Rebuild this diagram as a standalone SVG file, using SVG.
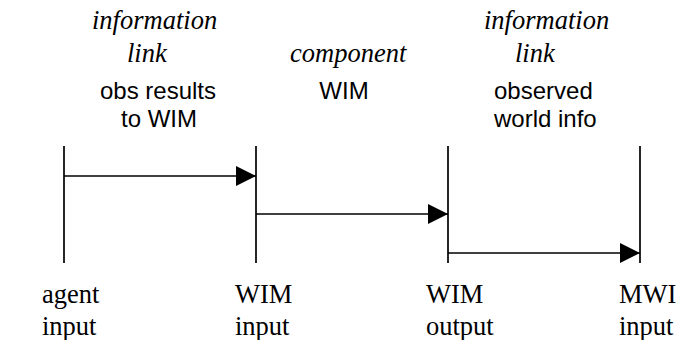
<svg xmlns="http://www.w3.org/2000/svg" width="677" height="340" viewBox="0 0 677 340">
<style>
.it{font-family:"Liberation Serif","Times New Roman",serif;font-style:italic;font-size:26.5px;fill:#000}
.sf{font-family:"Liberation Serif","Times New Roman",serif;font-size:26.5px;fill:#000}
.ss{font-family:"Liberation Sans",Arial,sans-serif;font-size:24px;fill:#000}
.ln{stroke:#000;stroke-width:1.7;fill:none}
</style>
<defs>
<marker id="ah" markerWidth="20" markerHeight="20" refX="20" refY="10" orient="auto" markerUnits="userSpaceOnUse">
<path d="M0,0 L20,10 L0,20 Z" fill="#000"/>
</marker>
</defs>
<rect width="677" height="340" fill="#fff"/>
<g id="link1">
<text class="it" x="92" y="29">information</text>
<text class="it" x="127" y="62">link</text>
<text class="ss" x="158" y="99" text-anchor="middle">obs results</text>
<text class="ss" x="159" y="127" text-anchor="middle">to WIM</text>
</g>
<g id="component">
<text class="it" x="290" y="62">component</text>
<text class="ss" x="344" y="99" text-anchor="middle">WIM</text>
</g>
<g id="link2">
<text class="it" x="484" y="29">information</text>
<text class="it" x="515" y="62">link</text>
<text class="ss" x="494" y="99">observed</text>
<text class="ss" x="494" y="127">world info</text>
</g>
<g id="agent-input">
<line class="ln" x1="64" y1="146" x2="64" y2="263"/>
<text class="sf" x="42" y="303">agent</text>
<text class="sf" x="42" y="335">input</text>
</g>
<g id="wim-input">
<line class="ln" x1="256" y1="146" x2="256" y2="263"/>
<text class="sf" x="235" y="303">WIM</text>
<text class="sf" x="235" y="335">input</text>
</g>
<g id="wim-output">
<line class="ln" x1="448" y1="146" x2="448" y2="263"/>
<text class="sf" x="426" y="303">WIM</text>
<text class="sf" x="426" y="335">output</text>
</g>
<g id="mwi-input">
<line class="ln" x1="640" y1="146" x2="640" y2="263"/>
<text class="sf" x="619" y="303">MWI</text>
<text class="sf" x="619" y="335">input</text>
</g>
<g id="connectors">
<line class="ln" x1="64" y1="176" x2="256" y2="176" marker-end="url(#ah)"/>
<line class="ln" x1="256" y1="214" x2="448" y2="214" marker-end="url(#ah)"/>
<line class="ln" x1="448" y1="253" x2="640" y2="253" marker-end="url(#ah)"/>
</g>
</svg>
